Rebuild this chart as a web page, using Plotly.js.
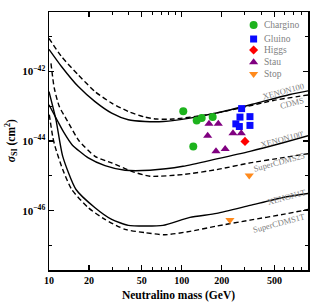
<!DOCTYPE html>
<html><head><meta charset="utf-8">
<script src="https://cdn.plot.ly/plotly-3.0.1.min.js"></script>
<style>body{margin:0;padding:0;background:#fff}#chart{width:311px;height:303px}</style>
</head><body><div id="chart"></div>
<script>
// ---- Limit curves: neutralino mass (GeV) vs sigma_SI (cm^2) ----
const xenon100Mass  = [10, 12.46, 16.63, 22.22, 29.68, 39.6, 52.9, 72.7, 115.5, 205.8, 367.5, 655, 900];
const xenon100Sigma = [4.26e-42, 1.35e-42, 3.63e-43, 1.35e-43, 6.31e-44, 4.06e-44, 3.63e-44, 3.63e-44, 4.54e-44, 7.02e-44, 1.22e-43, 2.15e-43, 2.75e-43];

const cdmsMass  = [10, 12.46, 16.63, 22.22, 29.68, 39.6, 52.9, 64.8, 86.5, 154.3, 275, 490, 900];
const cdmsSigma = [8.77e-42, 2.61e-42, 7.83e-43, 2.61e-43, 1.22e-43, 7.02e-44, 4.85e-44, 4.26e-44, 4.26e-44, 5.64e-44, 8.77e-44, 1.45e-43, 2.10e-43];

const xenon100pMass  = [10, 11.69, 12.97, 14.91, 19.78, 26.42, 37.4, 57.7, 102.3, 183.5, 327, 580, 900];
const xenon100pSigma = [1.09e-43, 3.56e-44, 1.73e-44, 7.83e-45, 3.27e-45, 1.97e-45, 1.45e-45, 1.45e-45, 1.88e-45, 3.06e-45, 5.05e-45, 8.93e-45, 1.42e-44];

const superCdms25Mass  = [10.35, 10.96, 11.96, 13.6, 16.83, 22.22, 29.68, 42.0, 57.7, 102.3, 183.5, 327, 580, 900];
const superCdms25Sigma = [1.69e-42, 3.27e-43, 9.75e-44, 4.06e-44, 1.02e-44, 3.63e-45, 2.35e-45, 1.35e-45, 9.75e-46, 1.09e-45, 1.51e-45, 2.35e-45, 3.33e-45, 4.34e-45];

const xenon1tMass  = [10, 11.29, 12.69, 15.98, 22.22, 29.68, 39.6, 52.9, 72.3, 115.5, 183.5, 327, 580, 900];
const xenon1tSigma = [2.61e-43, 4.06e-44, 3.63e-45, 4.06e-46, 1.22e-46, 5.64e-47, 3.8e-47, 3.63e-47, 3.8e-47, 6.44e-47, 8.38e-47, 1.42e-46, 2.40e-46, 3.12e-46];

const superCdms1tMass  = [10.05, 10.66, 11.10, 12.69, 14.83, 19.78, 26.42, 37.4, 52.9, 74.8, 115.5, 183.5, 327, 580, 900];
const superCdms1tSigma = [5.68e-44, 1.35e-44, 7.02e-45, 1.51e-45, 4.06e-46, 1.22e-46, 5.64e-47, 2.92e-47, 2.35e-47, 2.04e-47, 2.56e-47, 3.63e-47, 5.38e-47, 7.83e-47, 1.09e-46];

// ---- Model points ----
const charginoMass  = [102.8, 129.8, 141.5, 171.2, 122.3];
const charginoSigma = [7.1e-44, 3.9e-44, 4.6e-44, 4.85e-44, 7.0e-45];
const gluinoMass  = [283, 275, 327, 256, 272, 327];
const gluinoSigma = [8.5e-44, 4.85e-44, 5.0e-44, 3.1e-44, 2.6e-44, 2.8e-44];
const higgsMass  = [300];
const higgsSigma = [9.75e-45];
const stauMass  = [160.6, 188.7, 157, 243.6, 281.3, 181.4, 212.7];
const stauSigma = [3.12e-44, 3.12e-44, 1.42e-44, 1.67e-44, 1.67e-44, 5.05e-45, 5.94e-45];
const stopMass  = [323, 231];
const stopSigma = [1.02e-45, 5.4e-47];

// ---- Labels ----
const curveNames = ['XENON100', 'CDMS', "XENON100'", 'SuperCDMS25', 'XENON1T', 'SuperCDMS1T'];
const seriesNames = ['Chargino', 'Gluino', 'Higgs', 'Stau', 'Stop'];
const xTickVals = [10, 20, 50, 100, 200, 500];
const xTickText = ['10', '20', '50', '100', '200', '500'];
const yTickVals = [1e-46, 1e-44, 1e-42];
const yTickText = ['10<sup>\u221246</sup>', '10<sup>\u221244</sup>', '10<sup>\u221242</sup>'];

const SERIF = 'Liberation Serif, Times New Roman, serif';
const curves = [
  [xenon100Mass, xenon100Sigma, 'solid'],
  [cdmsMass, cdmsSigma, '5px,3px'],
  [xenon100pMass, xenon100pSigma, 'solid'],
  [superCdms25Mass, superCdms25Sigma, '5px,3px'],
  [xenon1tMass, xenon1tSigma, 'solid'],
  [superCdms1tMass, superCdms1tSigma, '5px,3px']
];
const traces = curves.map((c, i) => ({
  x: c[0], y: c[1], type: 'scatter', mode: 'lines', name: curveNames[i],
  line: {color: '#000', width: 1.4, dash: c[2], shape: 'spline', smoothing: 0.6},
  showlegend: false, hoverinfo: 'skip'
}));

const markerStyles = [
  {symbol: 'circle', color: '#1db31d', size: 8},
  {symbol: 'square', color: '#0a0aff', size: 7},
  {symbol: 'diamond', color: '#ff0000', size: 7},
  {symbol: 'triangle-up', color: '#800080', size: 8},
  {symbol: 'triangle-down', color: '#ff8a1c', size: 8}
];
const pts = [[charginoMass, charginoSigma], [gluinoMass, gluinoSigma], [higgsMass, higgsSigma], [stauMass, stauSigma], [stopMass, stopSigma]];
pts.forEach((p, i) => {
  traces.push({x: p[0], y: p[1], type: 'scatter', mode: 'markers', name: seriesNames[i],
    marker: {symbol: markerStyles[i].symbol, color: markerStyles[i].color, size: markerStyles[i].size, line: {width: 0}},
    showlegend: false});
});

// Legend drawn on an overlay axis in plot-area fractions
const legendX = 0.79, legendTextX = 0.822;
const legendY = [0.9496, 0.8953, 0.8527, 0.805, 0.7597];
seriesNames.forEach((n, i) => {
  traces.push({x: [legendX], y: [legendY[i]], xaxis: 'x2', yaxis: 'y2', type: 'scatter', mode: 'markers',
    marker: {symbol: markerStyles[i].symbol, color: markerStyles[i].color, size: markerStyles[i].size, line: {width: 0}},
    showlegend: false, hoverinfo: 'skip'});
});

const annotations = seriesNames.map((n, i) => ({
  xref: 'paper', yref: 'paper', x: legendTextX, y: legendY[i], xanchor: 'left', yanchor: 'middle',
  text: n, showarrow: false, font: {family: SERIF, size: 9.5, color: '#7f7f7f'}
}));
const curveLabelPos = [[0.907, 0.694], [0.937, 0.6455], [0.9015, 0.5078], [0.888, 0.4167], [0.917, 0.284], [0.888, 0.184]];
curveNames.forEach((n, i) => {
  annotations.push({xref: 'paper', yref: 'paper', x: curveLabelPos[i][0], y: curveLabelPos[i][1],
    xanchor: 'center', yanchor: 'middle', text: n, textangle: -15, showarrow: false,
    font: {family: SERIF, size: 8.5, color: '#808080'}});
});
// y-axis title placed as an annotation for exact position
annotations.push({xref: 'paper', yref: 'paper', x: -0.146, y: 0.5, xanchor: 'center', yanchor: 'middle',
  textangle: -90, showarrow: false, text: '<i>\u03c3</i><sub>SI</sub> (cm<sup>2</sup>)',
  font: {family: SERIF, size: 11.5, color: '#000', weight: 'bold'}});

const axisCommon = {
  type: 'log', showline: true, linecolor: '#000', linewidth: 1.5, mirror: 'ticks',
  ticks: 'inside', ticklen: 5, tickwidth: 1.2, tickcolor: '#000', showgrid: false, zeroline: false,
  tickfont: {family: SERIF, size: 10, color: '#000', weight: 'bold'}
};

const layout = {
  width: 311, height: 303,
  margin: {l: 49, r: 3, t: 12, b: 33},
  paper_bgcolor: '#fff', plot_bgcolor: '#fff', showlegend: false,
  xaxis: Object.assign({}, axisCommon, {
    range: [1, 2.952], tickmode: 'array', tickvals: xTickVals, ticktext: xTickText,
    minor: {ticks: 'inside', ticklen: 3, tickwidth: 1, tickcolor: '#000', tickvals: [30, 40, 60, 70, 80, 90, 300, 400, 600, 700, 800]},
    title: {text: 'Neutralino mass (GeV)', font: {family: SERIF, size: 11.5, color: '#000', weight: 'bold'}, standoff: 6}
  }),
  yaxis: Object.assign({}, axisCommon, {
    range: [-47.7, -40.3], tickmode: 'array', tickvals: yTickVals, ticktext: yTickText,
    tickfont: {family: SERIF, size: 11, color: '#000', weight: 'bold'},
    minor: {ticks: 'inside', ticklen: 3, tickwidth: 1, tickcolor: '#000', tickvals: [1e-47, 1e-45, 1e-43, 1e-41]}
  }),
  xaxis2: {overlaying: 'x', range: [0, 1], visible: false, fixedrange: true},
  yaxis2: {overlaying: 'y', range: [0, 1], visible: false, fixedrange: true},
  annotations: annotations
};

Plotly.newPlot('chart', traces, layout, {staticPlot: true, displayModeBar: false});
</script></body></html>
